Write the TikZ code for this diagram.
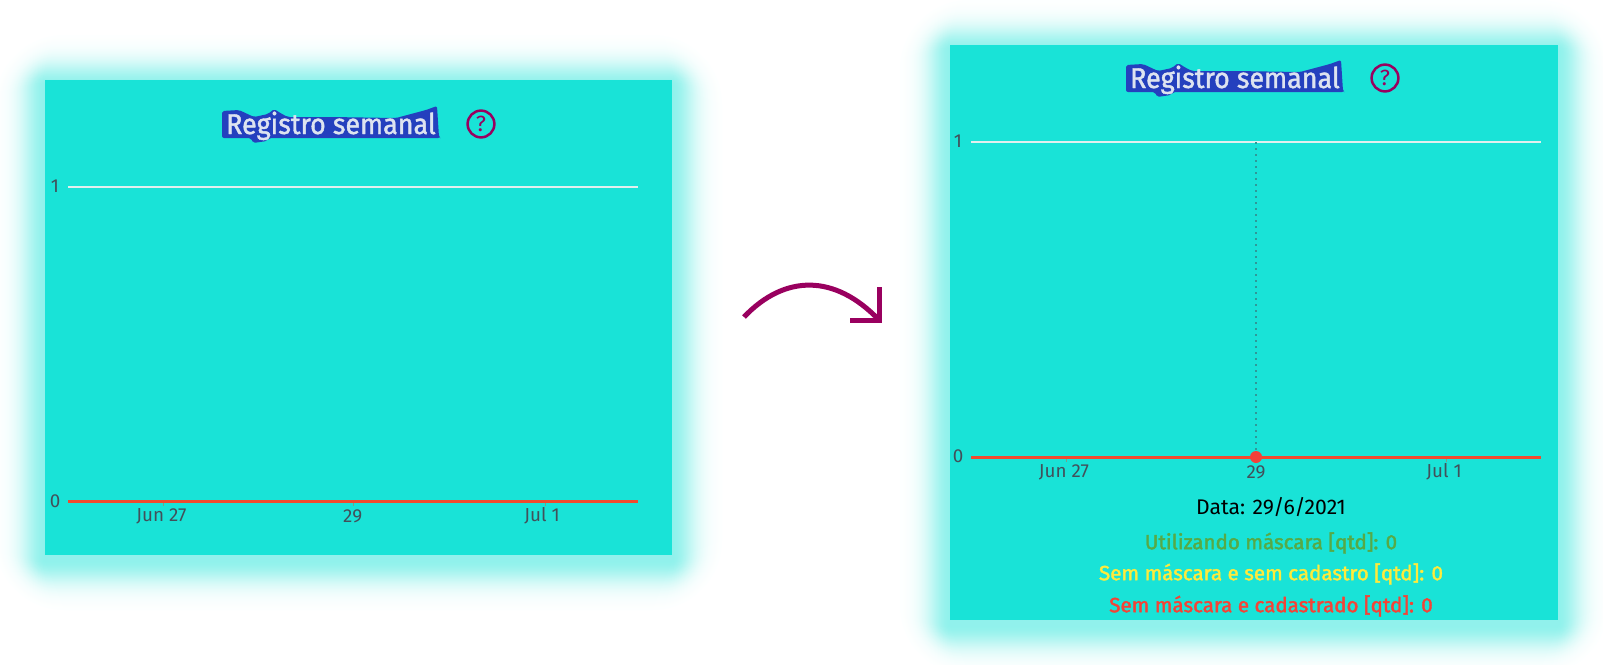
\documentclass[tikz,border=0pt]{standalone}
\usepackage{fontspec}
\setmainfont{Fira Sans}
\newfontfamily\medfont[FakeBold=1.8]{Fira Sans}
\newfontfamily\titlefont[FakeBold=1.4,FakeStretch=0.94]{Fira Sans}
\definecolor{panel}{HTML}{19E3D7}
\definecolor{magent}{HTML}{99005F}
\definecolor{blob}{HTML}{2440BE}
\definecolor{titletx}{HTML}{DDE3F0}
\definecolor{ticktx}{HTML}{42505A}
\definecolor{redline}{HTML}{EF4A2E}
\definecolor{dotred}{HTML}{F4413A}
\definecolor{gridc}{HTML}{E2EFEE}
\definecolor{lgreen}{HTML}{56AA46}
\definecolor{lyellow}{HTML}{FFEB3B}
\definecolor{lred}{HTML}{F44336}
\tikzset{
  x=0.5pt,y=-0.5pt,
  panelbox/.style={fill=panel,draw=none},
  tick/.style={font=\fontsize{9.4}{10}\selectfont,text=ticktx,inner sep=0pt,anchor=center},
  grid/.style={draw=gridc,line width=0.6pt},
  zero/.style={draw=redline,line width=1.6pt},
  tickmark/.style={draw=redline!45!panel,line width=0.5pt},
  title/.style={font=\fontsize{14.3}{15}\titlefont,text=titletx,inner sep=0pt,anchor=base},
  helpring/.style={circle,draw=magent,line width=1.25pt,minimum size=13.4pt,inner sep=0pt,text=magent,font=\fontsize{11}{11}\selectfont},
  legend/.style={font=\fontsize{10.3}{11}\medfont,inner sep=0pt,anchor=center},
  swoosh/.style={draw=magent,line width=2.5pt},
}
\newcommand{\softglow}[4]{%
  \foreach \r in {50,49,...,1}{
    \pgfmathsetmacro{\pc}{48*exp(-\r*\r/(2*17*17))}
    \fill[panel!\pc!white,rounded corners=\r*0.7pt]
      (#1-\r,#2-\r+5) rectangle (#3+\r,#4+\r+5);
  }}
\newcommand{\titleblob}{%
  \fill[blob,rounded corners=1pt]
   (1126,65) -- (1143,64) -- (1158,71) -- (1172,68) -- (1178,63) -- (1186,68) -- (1192,71)
   -- (1235,71) -- (1300,72) -- (1330,64) -- (1341,60) -- (1343,91) -- (1344,92)
   -- (1173,92) -- (1171,95) -- (1157,97) -- (1155,92) -- (1126,92) -- cycle;
}
\begin{document}
\begin{tikzpicture}
\useasboundingbox (0,0) rectangle (1603,664.4);
\fill[white] (0,0) rectangle (1603,664.4);

% ---------- left panel
\softglow{45}{80}{672}{555}
\fill[panelbox] (45,80) rectangle (672,555);
\begin{scope}[shift={(-904,46)}]
  \titleblob
\end{scope}
\node[title] (ltitle) at (331,134) {Registro semanal};
\node[helpring] (lhelp) at (481,124) {?};
\coordinate (lg1) at (68,187);
\coordinate (lg2) at (638,187);
\coordinate (lz1) at (68,501.5);
\coordinate (lz2) at (638,501.5);
\draw[grid] (lg1) -- (lg2);
\draw[zero] (lz1) -- (lz2);
\draw[tickmark] (163,503) -- (163,506) (353,503) -- (353,506) (545,503) -- (545,506);
\node[tick] (l1) at (55,186) {1};
\node[tick] (l0) at (55,501) {0};
\node[tick] (ljun) at (161.5,516) {Jun 27};
\node[tick] (l29) at (352.7,516) {29};
\node[tick] (ljul) at (542,516) {Jul 1};

% ---------- right panel
\softglow{950}{45}{1558}{620}
\fill[panelbox] (950,45) rectangle (1558,620);
\titleblob
\node[title] (rtitle) at (1235,88) {Registro semanal};
\node[helpring] (rhelp) at (1385,78) {?};
\coordinate (rg1) at (971,142);
\coordinate (rg2) at (1541,142);
\coordinate (rz1) at (971,457.5);
\coordinate (rz2) at (1541,457.5);
\coordinate (rv) at (1256,142);
\draw[grid] (rg1) -- (rg2);
\draw[draw=ticktx!50!panel,line width=0.6pt,dash pattern=on 1pt off 2pt] (rv) -- (1256,457);
\draw[zero] (rz1) -- (rz2);
\draw[tickmark] (1066,459) -- (1066,462) (1446,459) -- (1446,462);
\node[circle,fill=dotred,minimum size=6pt,inner sep=0pt] (rdot) at (1256,457) {};
\node[tick] (r1) at (958,141) {1};
\node[tick] (r0) at (958,456) {0};
\node[tick] (rjun) at (1064,472) {Jun 27};
\node[tick] (r29) at (1256,472) {29};
\node[tick] (rjul) at (1444,472) {Jul 1};
\node[font=\fontsize{10.6}{11}\selectfont,text=black,inner sep=0pt] (rdata) at (1271,507) {Data: 29/6/2021};
\node[legend,text=lgreen] (rl1) at (1271,543) {Utilizando máscara [qtd]: 0};
\node[legend,text=lyellow] (rl2) at (1271,574) {Sem máscara e sem cadastro [qtd]: 0};
\node[legend,text=lred] (rl3) at (1271,606) {Sem máscara e cadastrado [qtd]: 0};

% ---------- arrow between the panels
\coordinate (as) at (744,317);
\coordinate (ae) at (879,320);
\coordinate (au) at (879,287);
\coordinate (al) at (850,320);
\draw[swoosh] (as) .. controls (785,274) and (835,274) .. (ae);
\draw[swoosh,line cap=butt,line join=miter] (au) -- (ae) -- (al);
\end{tikzpicture}
\end{document}
